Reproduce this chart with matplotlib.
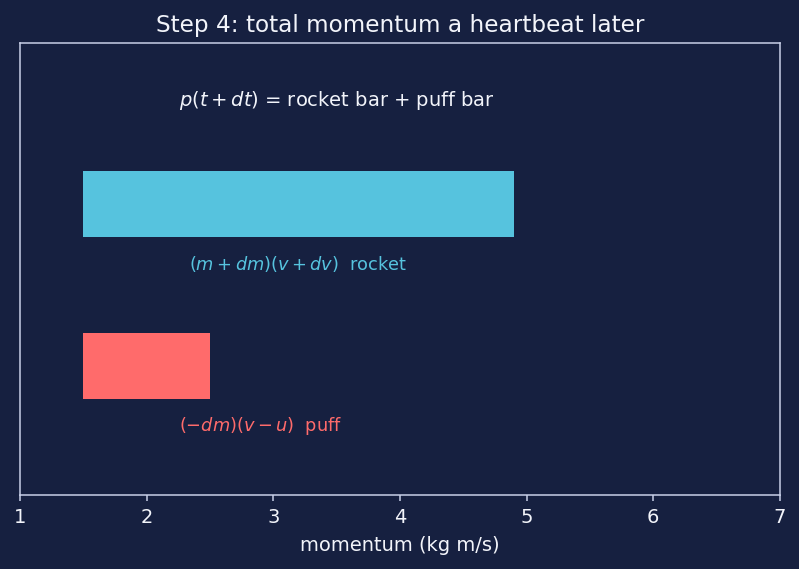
import numpy as np
import matplotlib
matplotlib.use("Agg")
import matplotlib.pyplot as plt

# momentum pieces a heartbeat later
names = ["rocket", "puff"]
starts = [1.5, 1.5]
widths = [3.4, 1.0]
rows = [2, 1]
labels = [r"$(m+dm)(v+dv)$  rocket", r"$(-dm)(v-u)$  puff"]
label_x = [3.2, 2.9]

BG = "#162040"
FG = "#f2f4fa"
SPINE = "#c8d0e8"
colors = ["#56c3de", "#ff6b6b"]

fig, ax = plt.subplots(figsize=(7.99, 5.69), dpi=100)
fig.patch.set_facecolor(BG)
ax.set_facecolor(BG)

ax.barh(rows, widths, left=starts, height=0.41, color=colors)
for r, lab, lx, c in zip(rows, labels, label_x, colors):
    ax.text(lx, r - 0.37, lab, color=c, ha="center", va="center", fontsize=12.8)

ax.text(3.5, 2.64, r"$p(t+dt)$ = rocket bar + puff bar", color=FG,
        ha="center", va="center", fontsize=14)

ax.set_xlim(1, 7)
ax.set_ylim(0.2, 3.0)
ax.set_yticks([])
ax.set_xticks(np.arange(1, 8))
ax.tick_params(axis="x", colors=SPINE, labelcolor=FG, labelsize=14,
               length=4.5, width=1.1, pad=5)
for s in ax.spines.values():
    s.set_color(SPINE)
    s.set_linewidth(1.1)
ax.set_xlabel("momentum (kg m/s)", color=FG, fontsize=14, labelpad=6)
ax.set_title("Step 4: total momentum a heartbeat later", color=FG, fontsize=16.7, pad=8)

fig.subplots_adjust(left=0.025, right=0.976, top=0.925, bottom=0.13)
fig.savefig("out.png", dpi=100, facecolor=BG)
